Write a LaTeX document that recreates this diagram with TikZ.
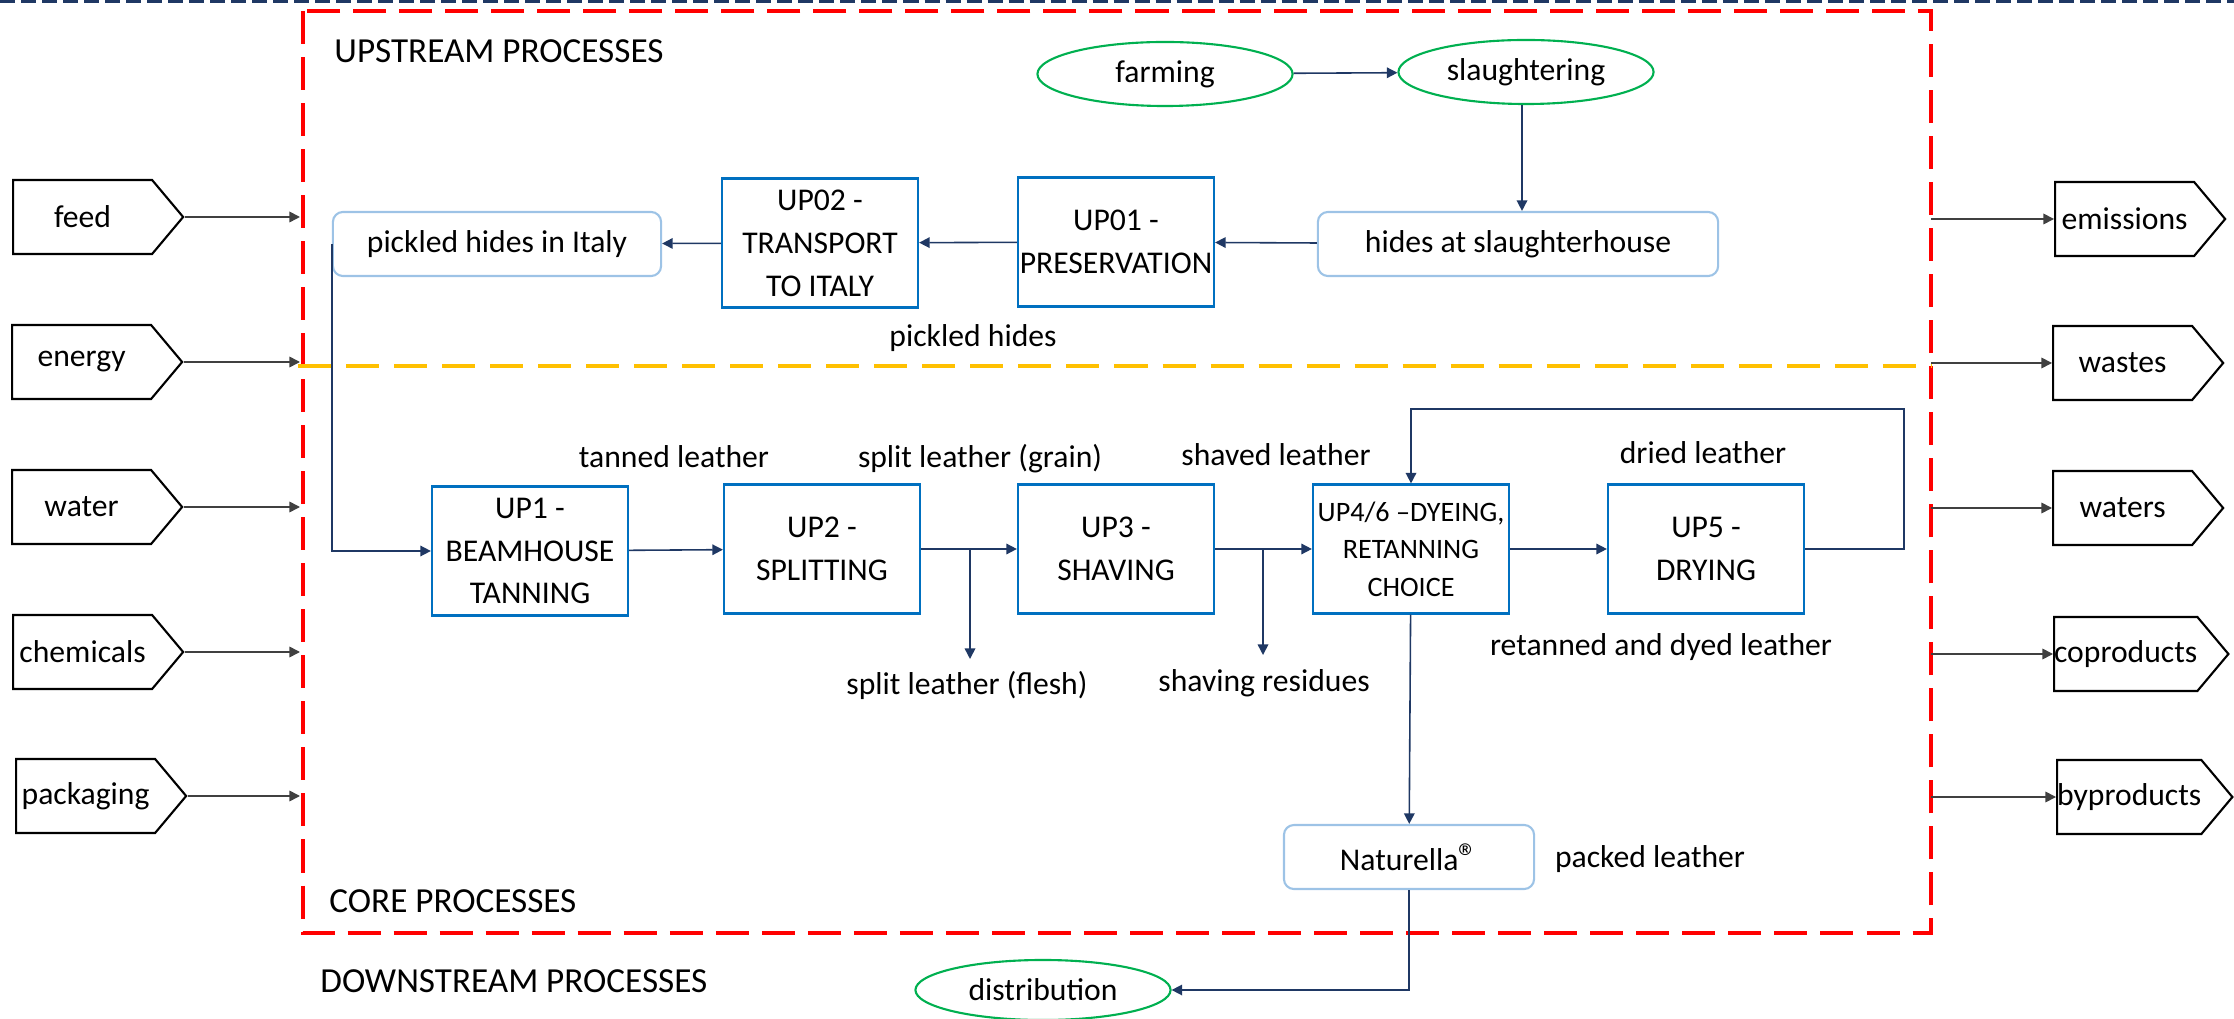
\documentclass[tikz,border=0pt]{standalone}
\usepackage{fontspec}
\setmainfont{Carlito}
\usetikzlibrary{shapes.geometric,shapes.symbols,arrows.meta}

\definecolor{navy}{HTML}{1F3864}
\definecolor{boxblue}{HTML}{0070C0}
\definecolor{lightblue}{HTML}{9DC3E6}
\definecolor{leafgreen}{HTML}{00B050}
\definecolor{gold}{HTML}{FFC000}

\begin{document}
\begin{tikzpicture}[x=0.01cm, y=-0.01cm,
    every node/.style={font=\fontsize{9}{11}\selectfont},
    proc/.style={draw=boxblue, line width=0.6pt, minimum width=1.96cm, minimum height=1.29cm,
        align=center, inner sep=0pt, font=\fontsize{9}{12.2}\selectfont},
    stock/.style={draw=lightblue, line width=0.6pt, rounded corners=0.1cm, minimum height=0.64cm},
    phase/.style={ellipse, draw=leafgreen, line width=0.6pt, minimum width=2.55cm,
        minimum height=0.64cm, inner sep=0pt},
    flux/.style={signal, signal to=east, signal pointer angle=100, draw, line width=0.6pt,
        minimum width=1.70cm, minimum height=0.74cm, inner sep=0pt, anchor=west},
    flow/.style={navy, line width=0.45pt, -{Triangle[length=3pt,width=3pt]}},
    feedline/.style={black!75, line width=0.45pt, -{Triangle[length=3pt,width=3pt]}},
    heading/.style={anchor=base west, font=\fontsize{10}{12}\selectfont}]
    \useasboundingbox (0,0) rectangle (2234,1019);

    % top border
    \draw[navy, line width=0.85pt, dash pattern=on 0.15cm off 0.06cm] (0,1.5) -- (2234,1.5);

    % system boundary
    \draw[red, line width=1.1pt, dash pattern=on 0.33cm off 0.13cm] (303,11) rectangle (1931,933);
    \draw[gold, line width=1.1pt, dash pattern=on 0.33cm off 0.15cm] (298,366) -- (1931,366);
    \coordinate (inlet) at (300,0);
    \coordinate (outlet) at (1931,0);

    % phase titles
    \node[heading] at (322,63) {UPSTREAM PROCESSES};
    \node[heading] at (317,912) {CORE PROCESSES};
    \node[heading] at (308,992) {DOWNSTREAM PROCESSES};

    % inputs
    \node[flux] (feed) at (12,217) {feed};
    \node[flux] (energy) at (11,362) {energy};
    \node[flux] (water) at (11,507) {water};
    \node[flux] (chem) at (12,652) {chemicals};
    \node[flux] (pack) at (15,796) {packaging};
    \draw[feedline] (feed.east) -- (feed.east -| inlet);
    \draw[feedline] (energy.east) -- (energy.east -| inlet);
    \draw[feedline] (water.east) -- (water.east -| inlet);
    \draw[feedline] (chem.east) -- (chem.east -| inlet);
    \draw[feedline] (pack.east) -- (pack.east -| inlet);

    % outputs
    \node[flux] (emis) at (2054,219) {emissions};
    \node[flux] (waste) at (2052,363) {wastes};
    \node[flux] (waters) at (2052,508) {waters};
    \node[flux] (coprod) at (2053,654) {coproducts};
    \node[flux] (byprod) at (2056,797) {byproducts};
    \draw[feedline] (emis.west -| outlet) -- (emis.west);
    \draw[feedline] (waste.west -| outlet) -- (waste.west);
    \draw[feedline] (waters.west -| outlet) -- (waters.west);
    \draw[feedline] (coprod.west -| outlet) -- (coprod.west);
    \draw[feedline] (byprod.west -| outlet) -- (byprod.west);

    % upstream chain
    \node[phase] (farm) at (1165,74) {farming};
    \node[phase] (slaught) at (1526,72) {slaughtering};
    \node[stock, minimum width=4.00cm] (hides) at (1518,244) {hides at slaughterhouse};
    \node[proc] (up01) at (1116,242) {UP01 -\\PRESERVATION};
    \node[proc] (up02) at (820,243) {UP02 -\\TRANSPORT\\TO ITALY};
    \node[stock, minimum width=3.28cm] (italy) at (497,244) {pickled hides in Italy};
    \node (lpickled) at (973,338) {pickled hides};
    \draw[flow] (farm) -- (slaught);
    \draw[flow] (slaught.south -| 1522,0) -- (hides.north -| 1522,0);
    \draw[flow] (hides) -- (up01);
    \draw[flow] (up01) -- (up02);
    \draw[flow] (up02) -- (italy);

    % core chain
    \node[proc] (up1) at (530,551) {UP1 -\\BEAMHOUSE\\TANNING};
    \node[proc] (up2) at (822,549) {UP2 -\\SPLITTING};
    \node[proc] (up3) at (1116,549) {UP3 -\\SHAVING};
    \node[proc, font=\fontsize{8}{10.7}\selectfont] (up46) at (1411,549) {UP4/6 --DYEING,\\RETANNING\\CHOICE};
    \node[proc] (up5) at (1706,549) {UP5 -\\DRYING};
    \draw[flow] (italy.west) |- (up1.west);
    \draw[flow] (up1) -- (up2);
    \draw[flow] (up2) -- (up3);
    \draw[flow] (up3) -- (up46);
    \draw[flow] (up46) -- (up5);

    % side streams
    \coordinate (flesh) at (970,659);
    \coordinate (resid) at (1263,655);
    \draw[flow] (flesh |- up2.east) -- (flesh);
    \draw[flow] (resid |- up3.east) -- (resid);

    % recirculation
    \coordinate (loop) at (1904,409);
    \draw[flow] (up5.east) -| (loop) -| (up46.north);

    % labels
    \node (ltanned) at (674,457) {tanned leather};
    \node (lgrain) at (980,459) {split leather (grain)};
    \node (lshaved) at (1276,455) {shaved leather};
    \node (ldried) at (1703,453) {dried leather};
    \node (lflesh) at (967,685) {split leather (flesh)};
    \node (lresid) at (1264,683) {shaving residues};
    \node (ldyed) at (1661,647) {retanned and dyed leather};

    % product and downstream
    \node[stock, minimum width=2.50cm] (natur) at (1409,857)
        {Naturella{\fontsize{11}{11}\selectfont\textregistered}};
    \node (lpacked) at (1650,859) {packed leather};
    \node[phase, minimum height=0.60cm] (distr) at (1043,990) {distribution};
    \draw[flow] (up46) -- (natur);
    \draw[flow] (natur.south) |- (distr.east);
\end{tikzpicture}
\end{document}
